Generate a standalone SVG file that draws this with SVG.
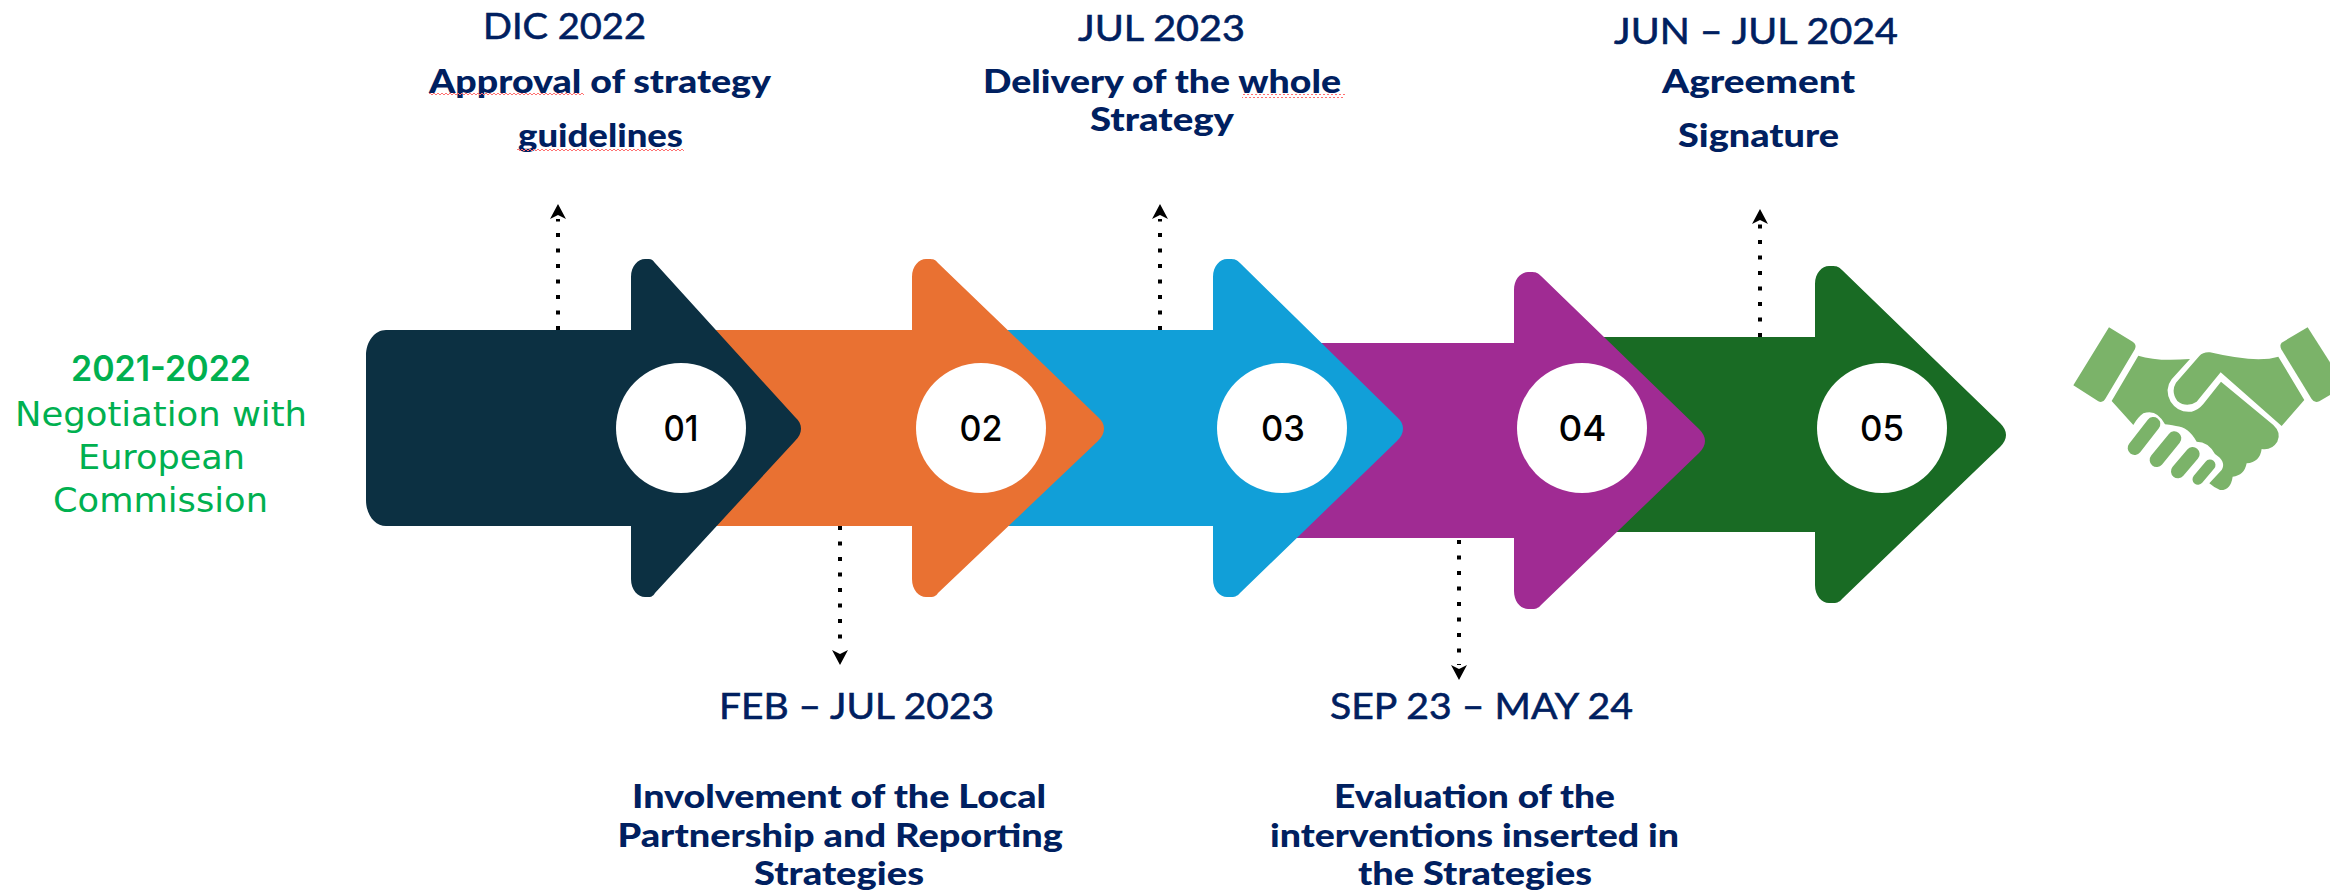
<svg xmlns="http://www.w3.org/2000/svg" width="2330" height="892" viewBox="0 0 2330 892">
<style>
.bg{fill:#fff}
.circle{fill:#fff}
.num{font-family:"Inter","Lato",sans-serif;font-weight:500;font-size:36px;fill:#000;text-anchor:middle}
.date{font-family:"Lato","Liberation Sans",sans-serif;font-weight:400;font-size:37px;fill:#002060;stroke:#002060;stroke-width:.6}
.desc{font-family:"Lato","Liberation Sans",sans-serif;font-weight:900;font-size:33px;fill:#002060}
.g1{font-family:"Inter","Noto Sans",sans-serif;font-weight:600;font-size:35px;fill:#00B050}
.g2{font-family:"DejaVu Sans",sans-serif;font-size:33px;fill:#00B050}
.dot{stroke:#000;stroke-width:4;stroke-dasharray:4 11.5;fill:none;marker-end:url(#head)}
.hand{fill:#7BB369}
.finger{stroke:#7BB369;stroke-linecap:round;fill:none}
</style>
<defs>
<marker id="head" markerUnits="userSpaceOnUse" markerWidth="16" markerHeight="18" viewBox="0 -9 16 18" refX="0" refY="0" orient="auto"><path d="M15,0L0,-8L4,0L0,8Z" fill="#000"/></marker>
<pattern id="sq" patternUnits="userSpaceOnUse" width="4" height="4"><path d="M0,3L2,1L4,3" fill="none" stroke="#FF7070" stroke-width="1"/></pattern>
</defs>
<rect class="bg" width="2330" height="892"/>
<g id="connectors">
<line class="dot" x1="558" y1="330" x2="558" y2="219"/>
<line class="dot" x1="840" y1="526" x2="840" y2="650"/>
<line class="dot" x1="1160" y1="330" x2="1160" y2="219"/>
<line class="dot" x1="1459" y1="540" x2="1459" y2="665"/>
<line class="dot" x1="1760" y1="337" x2="1760" y2="224"/>
</g>
<g id="arrow-5"><path fill="#196B24" d="M1590,337H1815V284C1815,273 1822,266 1829,266C1833,266 1838,265 1842,270L2000,423C2008,431 2008,439 2000,447L1842,599C1838,604 1833,603 1829,603C1822,603 1815,596 1815,585V532H1590Z"/></g>
<g id="arrow-4"><path fill="#A02B93" d="M1280,343H1514V290C1514,279 1521,272 1528,272C1532,272 1537,271 1541,276L1699,429C1707,437 1707,445 1699,453L1541,605C1537,610 1532,609 1528,609C1521,609 1514,602 1514,591V538H1280Z"/></g>
<g id="arrow-3"><path fill="#119FD8" d="M1000,330H1213V277C1213,266 1220,259 1227,259C1231,259 1236,258 1240,263L1397,417C1405,424 1405,433 1397,441L1240,593C1236,598 1231,597 1227,597C1220,597 1213,590 1213,579V526H1000Z"/></g>
<g id="arrow-2"><path fill="#E97132" d="M700,330H912V277C912,266 919,259 926,259C930,259 935,258 938,263L1098,417C1106,424 1106,433 1098,441L938,593C935,598 930,597 926,597C919,597 912,590 912,579V526H700Z"/></g>
<g id="arrow-1"><path fill="#0C3042" d="M386,330H631V277C631,266 638,259 645,259C649,259 652,258 655,263L795,417C803,424 803,433 795,441L655,593C652,598 649,597 645,597C638,597 631,590 631,579V526H386C375,526 366,515 366,500V356C366,341 375,330 386,330Z"/></g>
<g id="node-01"><circle class="circle" cx="681" cy="428" r="65"/><text class="num" x="681" y="441" textLength="35" lengthAdjust="spacingAndGlyphs">01</text></g>
<g id="node-02"><circle class="circle" cx="981" cy="428" r="65"/><text class="num" x="981" y="441" textLength="43" lengthAdjust="spacingAndGlyphs">02</text></g>
<g id="node-03"><circle class="circle" cx="1282" cy="428" r="65"/><text class="num" x="1283" y="441" textLength="44" lengthAdjust="spacingAndGlyphs">03</text></g>
<g id="node-04"><circle class="circle" cx="1582" cy="428" r="65"/><text class="num" x="1582.5" y="441" textLength="48" lengthAdjust="spacingAndGlyphs">04</text></g>
<g id="node-05"><circle class="circle" cx="1882" cy="428" r="65"/><text class="num" x="1882" y="441" textLength="44" lengthAdjust="spacingAndGlyphs">05</text></g>
<g id="label-start">
<text class="g1" x="71" y="381" textLength="180" lengthAdjust="spacingAndGlyphs">2021-2022</text>
<text class="g2" x="15" y="426" textLength="292" lengthAdjust="spacingAndGlyphs">Negotiation with</text>
<text class="g2" x="78" y="469" textLength="167" lengthAdjust="spacingAndGlyphs">European</text>
<text class="g2" x="53" y="512" textLength="215" lengthAdjust="spacingAndGlyphs">Commission</text>
</g>
<g id="label-01">
<text class="date" x="483" y="39" textLength="163" lengthAdjust="spacingAndGlyphs">DIC 2022</text>
<text class="desc" x="429" y="93" textLength="342" lengthAdjust="spacingAndGlyphs">Approval of strategy</text>
<text class="desc" x="518" y="147" textLength="165" lengthAdjust="spacingAndGlyphs">guidelines</text>
<rect x="429" y="93" width="155" height="4" fill="url(#sq)"/>
<rect x="517" y="147" width="167" height="4" fill="url(#sq)"/>
</g>
<g id="label-02">
<text class="date" x="719" y="719" textLength="275" lengthAdjust="spacingAndGlyphs">FEB – JUL 2023</text>
<text class="desc" x="632" y="808" textLength="414" lengthAdjust="spacingAndGlyphs">Involvement of the Local</text>
<text class="desc" x="617.5" y="847" textLength="445.5" lengthAdjust="spacingAndGlyphs">Partnership and Reporting</text>
<text class="desc" x="754" y="885" textLength="170" lengthAdjust="spacingAndGlyphs">Strategies</text>
</g>
<g id="label-03">
<text class="date" x="1078" y="41" textLength="167" lengthAdjust="spacingAndGlyphs">JUL 2023</text>
<text class="desc" x="983" y="93" textLength="358" lengthAdjust="spacingAndGlyphs">Delivery of the whole</text>
<text class="desc" x="1090" y="131" textLength="144" lengthAdjust="spacingAndGlyphs">Strategy</text>
<rect x="1242" y="94" width="103" height="4" fill="url(#sq)"/>
</g>
<g id="label-04">
<text class="date" x="1330" y="719" textLength="303" lengthAdjust="spacingAndGlyphs">SEP 23 – MAY 24</text>
<text class="desc" x="1334" y="808" textLength="281" lengthAdjust="spacingAndGlyphs">Evaluation of the</text>
<text class="desc" x="1270" y="847" textLength="409" lengthAdjust="spacingAndGlyphs">interventions inserted in</text>
<text class="desc" x="1358" y="885" textLength="234" lengthAdjust="spacingAndGlyphs">the Strategies</text>
</g>
<g id="label-05">
<text class="date" x="1614" y="44" textLength="284" lengthAdjust="spacingAndGlyphs">JUN – JUL 2024</text>
<text class="desc" x="1662" y="93" textLength="193" lengthAdjust="spacingAndGlyphs">Agreement</text>
<text class="desc" x="1678" y="147" textLength="161" lengthAdjust="spacingAndGlyphs">Signature</text>
</g>
<g id="handshake" transform="translate(2040 300) scale(.3333)">
<path class="hand" d="M207,82L278,125Q291,133 285,147L197,295Q189,310 175,304L100,256Z"/>
<path class="hand" d="M803,82L725,128Q718,135 724,148L815,297Q823,310 838,304L870,285V187Z"/>
<path class="hand" d="M295,167Q350,185 450,177L395,238Q372,268 392,305Q415,340 455,335Q475,330 490,312L543,245L700,375Q725,398 712,425Q695,452 665,447Q660,487 620,490Q613,527 578,530Q572,572 540,570Q525,565 508,550L545,510Q560,485 525,462Q505,425 470,425Q445,380 408,378Q385,373 375,373Q350,325 310,340Q295,350 280,375L215,303Z"/>
<path class="hand" d="M715,170Q650,190 510,157Q490,155 478,168L408,248Q392,275 412,303Q440,325 470,305L542,217L725,378L793,300Z"/>
<path class="finger" stroke-width="42" d="M340,372L284,444"/>
<path class="finger" stroke-width="42" d="M403,415L350,480"/>
<path class="finger" stroke-width="42" d="M458,462L414,514"/>
<path class="finger" stroke-width="33" d="M510,495L474,538"/>
</g>
</svg>
